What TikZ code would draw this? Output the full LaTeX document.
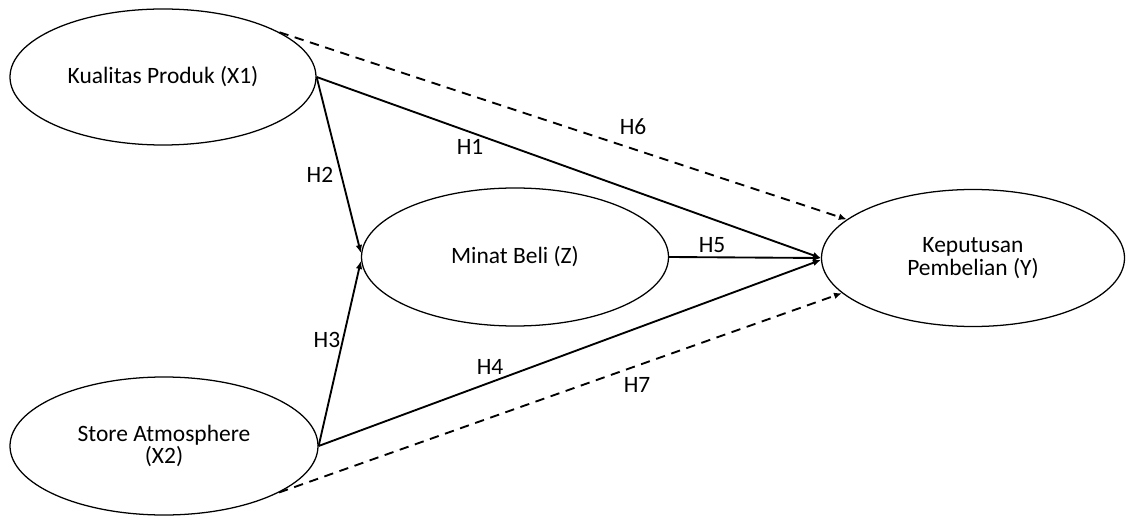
\documentclass[tikz,border=0pt]{standalone}
\usepackage{fontspec}
\setmainfont{Carlito}
\usetikzlibrary{shapes.geometric,arrows.meta}
\begin{document}
\begin{tikzpicture}[x=0.75pt,y=-0.75pt,
  lat/.style={ellipse,draw,line width=0.95pt,inner sep=0pt,align=center,font=\fontsize{17.6}{17}\selectfont},
  conn/.style={line width=1.4pt,-{Latex[length=6pt,width=5pt]}},
  dconn/.style={conn,dash pattern=on 7pt off 5pt},
  lbl/.style={font=\fontsize{17.6}{18}\selectfont,inner sep=0pt}]
\fill[white] (0,0) rectangle (1126,516);
\useasboundingbox (0,0) rectangle (1126,516);
\node[lat,minimum width=229.5pt,minimum height=102pt] (X1) at (163,77) {Kualitas Produk (X1)};
\node[lat,minimum width=231pt,minimum height=103.5pt] (X2) at (164,446) {Store Atmosphere\\(X2)};
\node[lat,minimum width=230.25pt,minimum height=103.5pt] (Z) at (515,257) {Minat Beli (Z)};
\node[lat,minimum width=227.25pt,minimum height=102.75pt] (Y) at (973,258) {Keputusan\\Pembelian (Y)};
\draw[conn] (X1.east) -- (Y.west);
\draw[conn] (X1.east) -- ([yshift=3pt]Z.west);
\draw[conn] (X2.east) -- ([yshift=-3pt]Z.west);
\draw[conn] (X2.east) -- ([yshift=-1.5pt]Y.west);
\draw[conn] (Z.east) -- (Y.west);
\draw[dconn] (X1.21) -- (Y.163);
\draw[dconn] (X2.-22) -- (Y.195);
\node[lbl] (h1) at (470,147) {H1};
\node[lbl] (h2) at (320,175) {H2};
\node[lbl] (h3) at (327,340) {H3};
\node[lbl] (h4) at (490,367) {H4};
\node[lbl] (h5) at (712,245) {H5};
\node[lbl] (h6) at (633,127) {H6};
\node[lbl] (h7) at (637,385) {H7};
\end{tikzpicture}
\end{document}
